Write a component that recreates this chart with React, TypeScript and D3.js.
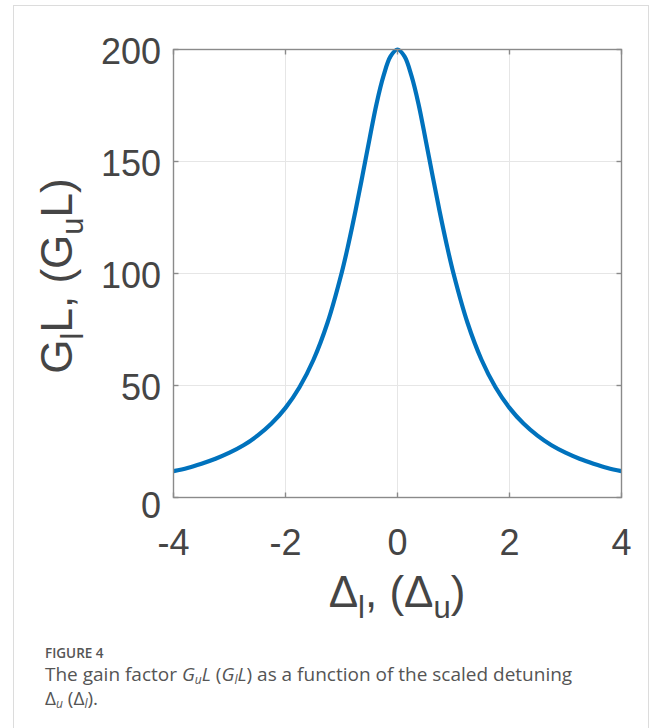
import React from "react";
import * as d3 from "d3";

// Scaled detuning Δ and the gain factor G·L
const detuning = [
  -4, -3.75, -3.5, -3.25, -3, -2.75, -2.5, -2.25, -2, -1.75, -1.5, -1.25,
  -1, -0.875, -0.75, -0.625, -0.5, -0.375, -0.25, -0.125, 0,
  0.125, 0.25, 0.375, 0.5, 0.625, 0.75, 0.875, 1,
  1.25, 1.5, 1.75, 2, 2.25, 2.5, 2.75, 3, 3.25, 3.5, 3.75, 4,
];
const gain = [
  11.8, 13.2, 15.1, 17.3, 20.0, 23.3, 27.6, 33.0, 40.0, 49.2, 61.5, 78.0,
  100, 113.3, 128, 143.8, 160, 175.7, 188.2, 196.9, 200,
  196.9, 188.2, 175.7, 160, 143.8, 128, 113.3, 100,
  78.0, 61.5, 49.2, 40.0, 33.0, 27.6, 23.3, 20.0, 17.3, 15.1, 13.2, 11.8,
];
const xTicks = [-4, -2, 0, 2, 4];
const yTicks = [0, 50, 100, 150, 200];

const W = 658;
const H = 728;
const plot = { left: 173.5, right: 621.5, top: 49.5, bottom: 497.5 };

export default function App() {
  const x = d3.scaleLinear().domain([-4, 4]).range([plot.left, plot.right]);
  const y = d3.scaleLinear().domain([0, 200]).range([plot.bottom, plot.top]);
  const pts: [number, number][] = detuning.map((d, i) => [d, gain[i]]);
  const line = d3
    .line<[number, number]>()
    .x((d) => x(d[0]))
    .y((d) => y(d[1]))
    .curve(d3.curveCatmullRom.alpha(0.5));

  const axisColor = "#8a8a8a";
  const gridColor = "#e6e6e6";
  const textColor = "#454545";
  const font = "'Liberation Sans', Arial, Helvetica, sans-serif";
  const capFont = "'Open Sans', 'Noto Sans', sans-serif";
  const tickLen = 5;

  return (
    <svg
      width={W}
      height={H}
      viewBox={`0 0 ${W} ${H}`}
      style={{ position: "absolute", left: 0, top: 0, background: "#fff" }}
    >
      <rect x={13.5} y={5.5} width={635} height={740} fill="#fff" stroke="#dcdcdc" strokeWidth={1} />

      {/* grid */}
      {xTicks.slice(1, -1).map((t) => (
        <line key={"gx" + t} x1={x(t)} x2={x(t)} y1={plot.top} y2={plot.bottom} stroke={gridColor} strokeWidth={1} />
      ))}
      {yTicks.slice(1, -1).map((t) => (
        <line key={"gy" + t} x1={plot.left} x2={plot.right} y1={y(t)} y2={y(t)} stroke={gridColor} strokeWidth={1} />
      ))}

      {/* curve */}
      <path d={line(pts) || ""} fill="none" stroke="#0072BD" strokeWidth={4.2} strokeLinejoin="round" strokeLinecap="butt" />

      {/* axes box */}
      <rect
        x={plot.left}
        y={plot.top}
        width={plot.right - plot.left}
        height={plot.bottom - plot.top}
        fill="none"
        stroke={axisColor}
        strokeWidth={1.4}
      />
      {xTicks.map((t) => (
        <g key={"tx" + t}>
          <line x1={x(t)} x2={x(t)} y1={plot.bottom} y2={plot.bottom - tickLen} stroke={axisColor} strokeWidth={1.4} />
          <line x1={x(t)} x2={x(t)} y1={plot.top} y2={plot.top + tickLen} stroke={axisColor} strokeWidth={1.4} />
          <text x={x(t)} y={555} textAnchor="middle" fontFamily={font} fontSize={36} fill={textColor}>
            {t < 0 ? "-" + Math.abs(t) : String(t)}
          </text>
        </g>
      ))}
      {yTicks.map((t) => (
        <g key={"ty" + t}>
          <line x1={plot.left} x2={plot.left + tickLen} y1={y(t)} y2={y(t)} stroke={axisColor} strokeWidth={1.4} />
          <line x1={plot.right} x2={plot.right - tickLen} y1={y(t)} y2={y(t)} stroke={axisColor} strokeWidth={1.4} />
          <text x={161} y={y(t) + (t === 0 ? 20 : 14)} textAnchor="end" fontFamily={font} fontSize={36} fill={textColor}>
            {t}
          </text>
        </g>
      ))}

      {/* axis titles */}
      <text x={397} y={607} textAnchor="middle" fontFamily={font} fontSize={44} fill={textColor}>
        Δ<tspan fontSize={31} dy={11}>l</tspan>
        <tspan dy={-11}>, (Δ</tspan>
        <tspan fontSize={31} dy={11}>u</tspan>
        <tspan dy={-11}>)</tspan>
      </text>
      <text
        transform="translate(72,276) rotate(-90)"
        textAnchor="middle"
        fontFamily={font}
        fontSize={44}
        fill={textColor}
      >
        G<tspan fontSize={31} dy={11}>l</tspan>
        <tspan dy={-11}>L, (G</tspan>
        <tspan fontSize={31} dy={11}>u</tspan>
        <tspan dy={-11}>L)</tspan>
      </text>

      {/* caption */}
      <text x={45} y={658} fontFamily={capFont} fontSize={13.5} fontWeight={600} fill="#555">
        FIGURE 4
      </text>
      <text x={45} y={681} fontFamily={capFont} fontSize={19} fill="#555">
        The gain factor{" "}
        <tspan fontStyle="italic">G</tspan>
        <tspan fontStyle="italic" fontSize={12} dy={3}>u</tspan>
        <tspan fontStyle="italic" dy={-3}>L</tspan>
        <tspan>{"  ("}</tspan>
        <tspan fontStyle="italic">G</tspan>
        <tspan fontStyle="italic" fontSize={12} dy={3}>l</tspan>
        <tspan fontStyle="italic" dy={-3}>L</tspan>
        <tspan>) as a function of the scaled detuning</tspan>
      </text>
      <text x={45} y={705} fontFamily={capFont} fontSize={19} fill="#555">
        Δ<tspan fontStyle="italic" fontSize={12} dy={3}>u</tspan>
        <tspan dy={-3}>{"  (Δ"}</tspan>
        <tspan fontStyle="italic" fontSize={12} dy={3}>l</tspan>
        <tspan dy={-3}>).</tspan>
      </text>
    </svg>
  );
}
